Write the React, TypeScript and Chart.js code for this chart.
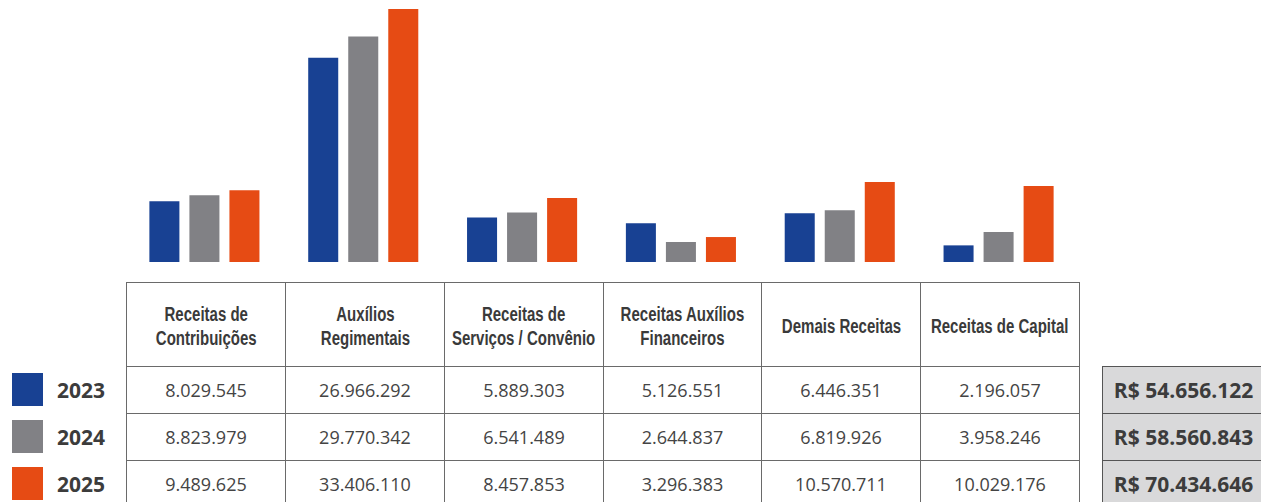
import React, { useEffect, useRef } from "react";
import { Chart, registerables } from "chart.js";

Chart.register(...registerables);

const categories = [
  "Receitas de Contribuições",
  "Auxílios Regimentais",
  "Receitas de Serviços / Convênio",
  "Receitas Auxílios Financeiros",
  "Demais Receitas",
  "Receitas de Capital",
];
const headerLines = [
  ["Receitas de", "Contribuições"],
  ["Auxílios", "Regimentais"],
  ["Receitas de", "Serviços / Convênio"],
  ["Receitas Auxílios", "Financeiros"],
  ["Demais Receitas"],
  ["Receitas de Capital"],
];
const years = ["2023", "2024", "2025"];
const values2023 = [8029545, 26966292, 5889303, 5126551, 6446351, 2196057];
const values2024 = [8823979, 29770342, 6541489, 2644837, 6819926, 3958246];
const values2025 = [9489625, 33406110, 8457853, 3296383, 10570711, 10029176];
const totals = [54656122, 58560843, 70434646];
const seriesColors = ["#184193", "#818185", "#e64b14"];
const yMax = 34600000;

const allValues = [values2023, values2024, values2025];

function fmt(n: number): string {
  const s = String(Math.round(n));
  let out = "";
  for (let i = 0; i < s.length; i++) {
    const fromEnd = s.length - i;
    out += s[i];
    if (fromEnd > 1 && (fromEnd - 1) % 3 === 0) out += ".";
  }
  return out;
}

const TABLE_LEFT = 126;
const TABLE_RIGHT = 1079;
const COL_W = (TABLE_RIGHT - TABLE_LEFT) / 6;
const ROW_TOPS = [282, 366, 413, 460];
const ROW_H = [84, 47, 47, 47];
const BORDER = "1px solid #6a6a6a";

export default function App() {
  const canvasRef = useRef<HTMLCanvasElement | null>(null);

  useEffect(() => {
    const canvas = canvasRef.current;
    if (!canvas) return;
    const chart = new Chart(canvas, {
      type: "bar",
      data: {
        labels: categories,
        datasets: years.map((y, i) => ({
          label: y,
          data: allValues[i],
          backgroundColor: seriesColors[i],
          borderWidth: 0,
          barPercentage: 0.75,
          categoryPercentage: 0.756,
        })),
      },
      options: {
        responsive: false,
        animation: false,
        devicePixelRatio: 1,
        layout: { padding: 0 },
        plugins: { legend: { display: false }, tooltip: { enabled: false } },
        scales: {
          x: { display: false },
          y: { display: false, min: 0, max: yMax },
        },
      },
    });
    return () => chart.destroy();
  }, []);

  const cells: React.ReactNode[] = [];
  for (let r = 0; r < 4; r++) {
    for (let c = 0; c < 6; c++) {
      const x0 = Math.round(TABLE_LEFT + c * COL_W);
      const x1 = Math.round(TABLE_LEFT + (c + 1) * COL_W);
      const isHeader = r === 0;
      cells.push(
        <div
          key={`c${r}-${c}`}
          style={{
            position: "absolute",
            left: x0,
            top: ROW_TOPS[r],
            width: x1 - x0 + 1,
            height: ROW_H[r] + 1,
            border: BORDER,
            boxSizing: "border-box",
            display: "flex",
            alignItems: "center",
            justifyContent: "center",
            textAlign: "center",
            color: isHeader ? "#3a3a3a" : "#444",
            fontFamily: isHeader
              ? "'Liberation Sans', Arial, sans-serif"
              : "'Open Sans', 'Noto Sans', sans-serif",
            fontWeight: isHeader ? 700 : 400,
            fontSize: isHeader ? 20 : 18,
            lineHeight: isHeader ? "24px" : "20px",
            whiteSpace: "nowrap",
          }}
        >
          {isHeader ? (
            <div style={{ paddingTop: 2 }}>
              {headerLines[c].map((l, k) => (
                <div key={k} style={{ transform: "scaleX(0.75)", transformOrigin: "center" }}>
                  {l}
                </div>
              ))}
            </div>
          ) : (
            fmt(allValues[r - 1][c])
          )}
        </div>
      );
    }
  }

  return (
    <div
      style={{
        position: "absolute",
        left: 0,
        top: 0,
        width: 1261,
        height: 502,
        overflow: "hidden",
        background: "#fff",
      }}
    >
      <div style={{ position: "absolute", left: TABLE_LEFT - 1, top: 0, width: 953, height: 262 }}>
        <canvas ref={canvasRef} width={953} height={262} style={{ width: 953, height: 262, display: "block" }} />
      </div>
      {cells}
      {years.map((y, i) => (
        <React.Fragment key={y}>
          <div
            style={{
              position: "absolute",
              left: 12,
              top: 373 + i * 47,
              width: 31,
              height: 33,
              background: seriesColors[i],
            }}
          />
          <div
            style={{
              position: "absolute",
              left: 57,
              top: ROW_TOPS[i + 1],
              height: ROW_H[i + 1],
              display: "flex",
              alignItems: "center",
              fontFamily: "'Open Sans', 'Noto Sans', sans-serif",
              fontWeight: 700,
              fontSize: 21,
              color: "#3c3c3c",
            }}
          >
            {y}
          </div>
          <div
            style={{
              position: "absolute",
              left: 1102,
              top: ROW_TOPS[i + 1],
              width: 163,
              height: ROW_H[i + 1] + 1,
              border: "1px solid #555",
              boxSizing: "border-box",
              background: "#d9d9da",
              display: "flex",
              alignItems: "center",
              justifyContent: "center",
              fontFamily: "'Open Sans', 'Noto Sans', sans-serif",
              fontWeight: 700,
              fontSize: 21,
              color: "#3c3c3c",
              whiteSpace: "nowrap",
            }}
          >
            {"R$ " + fmt(totals[i])}
          </div>
        </React.Fragment>
      ))}
    </div>
  );
}
